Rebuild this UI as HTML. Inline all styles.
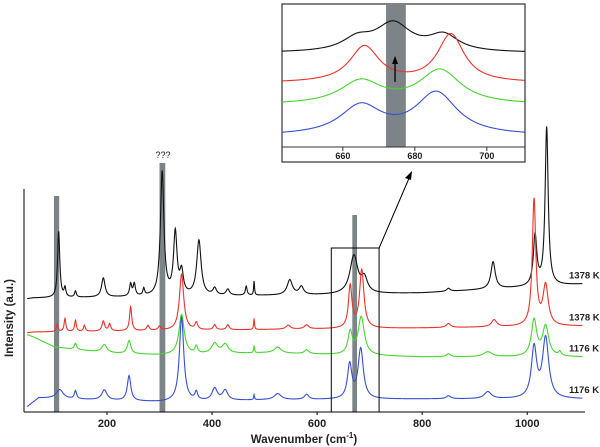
<!DOCTYPE html>
<html><head><meta charset="utf-8"><style>
html,body{margin:0;padding:0;background:#fff;}
svg{display:block;font-family:"Liberation Sans",Arial,sans-serif;}
</style></head><body>
<svg id="chart" width="600" height="447" viewBox="0 0 600 447" xmlns="http://www.w3.org/2000/svg">
<g id="main"></g>
<g id="inset"></g>
</svg>
<script>
// ===== main chart data =====
const xTicks = [200, 400, 600, 800, 1000];
const seriesNames = ["black-1378K", "red-1378K", "green-1176K", "blue-1176K"];
const seriesColors = ["#111111", "#e8332a", "#45d62e", "#3550d0"];
const seriesLabels = ["1378 K", "1378 K", "1176 K", "1176 K"];
// baseline control points (wavenumber, intensity)
const baseX = [[45,60,600,800,1110],[45,60,600,800,1110],[45,60,100,200,300,500,800,1110],[45,50,70,300,500,800,1110]];
const baseY = [[113,114,117,119,128],[79,80,83,84,86],[78,75,65,59,57,59,55,55],[4,6,14,10,12,13,13]];
// peaks: position (cm-1), height, half width
const peakPos = [
 [108,120,140,193,245,252,270,305,330,342,375,405,430,465,480,548,570,670,690,850,935,1015,1037],
 [105,120,140,157,193,205,245,278,300,342,370,405,430,480,545,580,663,685,850,937,1013,1035],
 [140,195,242,342,370,405,425,480,525,580,663,684,850,925,1013,1035,1062],
 [110,140,195,242,342,370,405,425,480,525,580,662,683,850,925,1013,1035]
];
const peakHeight = [
 [66,9,6,19,12,12,7,124,62,22,55,7,6,9,14,15,8,38,14,3,27,50,158],
 [7,13,11,6,10,7,24,5,4,56,7,5,5,11,4,4,42,58,4,7,126,40],
 [6,8,13,40,7,10,9,7,6,4,22,38,3,5,36,30,4],
 [9,8,10,25,84,8,12,10,5,6,5,34,50,3,7,50,60]
];
const peakWidth = [
 [2.5,2,2,4,2.5,2.5,2,4,4,4,5,4,4,2,1,6,5,9,7,4,5,4,3.5],
 [2,2,2,2,3,2.5,2.5,3,3,5,3,3,3,1,5,5,4,5,5,6,4,6],
 [2.5,6,4,6,3,7,7,1,8,5,5,7,5,10,6,7,3],
 [8,2.5,6,4,5,3,6,6,1,8,5,5,6,5,8,6,7]
];
const bands = [[99,109],[300,311],[667,676]];
const bandTop = [196,163,215];
// ===== inset data =====
const insetTicks = [660, 680, 700];
const insetBase = [94, 64, 42, 11];
const insetPos = [[664,674,688],[666,690],[665,687],[665,686]];
const insetHeight = [[12,28,16],[36,48],[23,34],[29,42]];
const insetWidth = [[5,6,5],[5,4.5],[7,7],[7,7]];
const insetBand = [672, 677.5];

const NS = "http://www.w3.org/2000/svg";
function mk(tag, attrs, parent){const e=document.createElementNS(NS,tag);for(const k in attrs)e.setAttribute(k,attrs[k]);parent.appendChild(e);return e;}
// main axes
const X0=24,X1=585,Y0=412;
const xMin=42,xMax=1110;
function xs(v){return X0+(v-xMin)/(xMax-xMin)*(X1-X0);}
function ys(v){return Y0-v;}
function interp(xa,ya,x){if(x<=xa[0])return ya[0];for(let i=1;i<xa.length;i++){if(x<=xa[i]){const t=(x-xa[i-1])/(xa[i]-xa[i-1]);return ya[i-1]+t*(ya[i]-ya[i-1]);}}return ya[ya.length-1];}
function lor(x,p,h,w){let s=0;for(let i=0;i<p.length;i++){const d=(x-p[i])/w[i];s+=h[i]/(1+d*d);}return s;}
const main=document.getElementById('main');
// bands
bands.forEach((b,i)=>{const r=mk('rect',{x:xs(b[0]),y:bandTop[i],width:xs(b[1])-xs(b[0]),height:Y0-bandTop[i],fill:'#7d8488'},main);

});
// series
seriesNames.forEach((n,s)=>{let d='';for(let x=48;x<=1105;x+=0.5){const v=interp(baseX[s],baseY[s],x)+lor(x,peakPos[s],peakHeight[s],peakWidth[s]);d+=(d?'L':'M')+xs(x).toFixed(2)+' '+ys(v).toFixed(2);}
const p=mk('path',{d:d,fill:'none',stroke:seriesColors[s],'stroke-width':1.1},main);


const endV=interp(baseX[s],baseY[s],1105)+lor(1105,peakPos[s],peakHeight[s],peakWidth[s]);
const t=mk('text',{x:569,y:ys(endV)-8+3,'font-size':9.5,'font-weight':'bold',fill:'#222'},main);t.textContent=seriesLabels[s];

});
// axes
let a=mk('line',{x1:X0,y1:189,x2:X0,y2:Y0,stroke:'#000','stroke-width':1},main);


a=mk('line',{x1:X0,y1:Y0,x2:X1,y2:Y0,stroke:'#000','stroke-width':1},main);


xTicks.forEach(v=>{const l=mk('line',{x1:xs(v),y1:Y0,x2:xs(v),y2:Y0+3,stroke:'#000'},main);


const t=mk('text',{x:xs(v),y:427,'font-size':11,'font-weight':'bold','text-anchor':'middle',fill:'#222'},main);t.textContent=v;

});
let t=mk('text',{x:304,y:443,'font-size':11.5,'font-weight':'bold','text-anchor':'middle',fill:'#222'},main);
t.innerHTML='Wavenumber (cm<tspan dy="-5" font-size="8">-1</tspan><tspan dy="5">)</tspan>';


t=mk('text',{x:0,y:0,'font-size':11.5,'font-weight':'bold','text-anchor':'middle',fill:'#222',transform:'translate(13,318) rotate(-90)'},main);t.textContent='Intensity (a.u.)';


t=mk('text',{x:163,y:158,'font-size':9,'text-anchor':'middle',fill:'#222'},main);t.textContent='???';


// zoom box + arrow
let r=mk('rect',{x:xs(627),y:248,width:xs(718)-xs(627),height:Y0-248,fill:'none',stroke:'#000','stroke-width':1},main);


let l=mk('line',{x1:xs(718),y1:248,x2:410,y2:176,stroke:'#000','stroke-width':1},main);


let h=mk('polygon',{points:'412,171 405,178 411,180',fill:'#000'},main);


// ===== inset =====
const inset=document.getElementById('inset');
const IX0=282,IX1=525,IY0=147,ixMin=643.1,ixMax=710.6;
function ixs(v){return IX0+(v-ixMin)/(ixMax-ixMin)*(IX1-IX0);}
function iys(v){return IY0-v;}
r=mk('rect',{x:IX0,y:4,width:IX1-IX0,height:158,fill:'#fff',stroke:'#333','stroke-width':1.2},inset);


r=mk('rect',{x:ixs(insetBand[0]),y:4,width:ixs(insetBand[1])-ixs(insetBand[0]),height:IY0-4,fill:'#7d8488'},inset);


seriesNames.forEach((n,s)=>{let d='';for(let x=ixMin;x<=ixMax;x+=0.2){const v=insetBase[s]+lor(x,insetPos[s],insetHeight[s],insetWidth[s]);d+=(d?'L':'M')+ixs(x).toFixed(2)+' '+iys(v).toFixed(2);}
const p=mk('path',{d:d,fill:'none',stroke:seriesColors[s],'stroke-width':1.1},inset);

});
l=mk('line',{x1:IX0,y1:IY0,x2:IX1,y2:IY0,stroke:'#333','stroke-width':1},inset);


insetTicks.forEach(v=>{const k=mk('line',{x1:ixs(v),y1:IY0,x2:ixs(v),y2:IY0+4,stroke:'#333'},inset);


const tt=mk('text',{x:ixs(v),y:159,'font-size':9,'font-weight':'bold','text-anchor':'middle',fill:'#222'},inset);tt.textContent=v;

});
l=mk('line',{x1:ixs(674.5),y1:82,x2:ixs(674.5),y2:62,stroke:'#000','stroke-width':1.3},inset);


h=mk('polygon',{points:(ixs(674.5)-3)+',64 '+(ixs(674.5)+3)+',64 '+ixs(674.5)+',56',fill:'#000'},inset);


</script>
</body></html>
